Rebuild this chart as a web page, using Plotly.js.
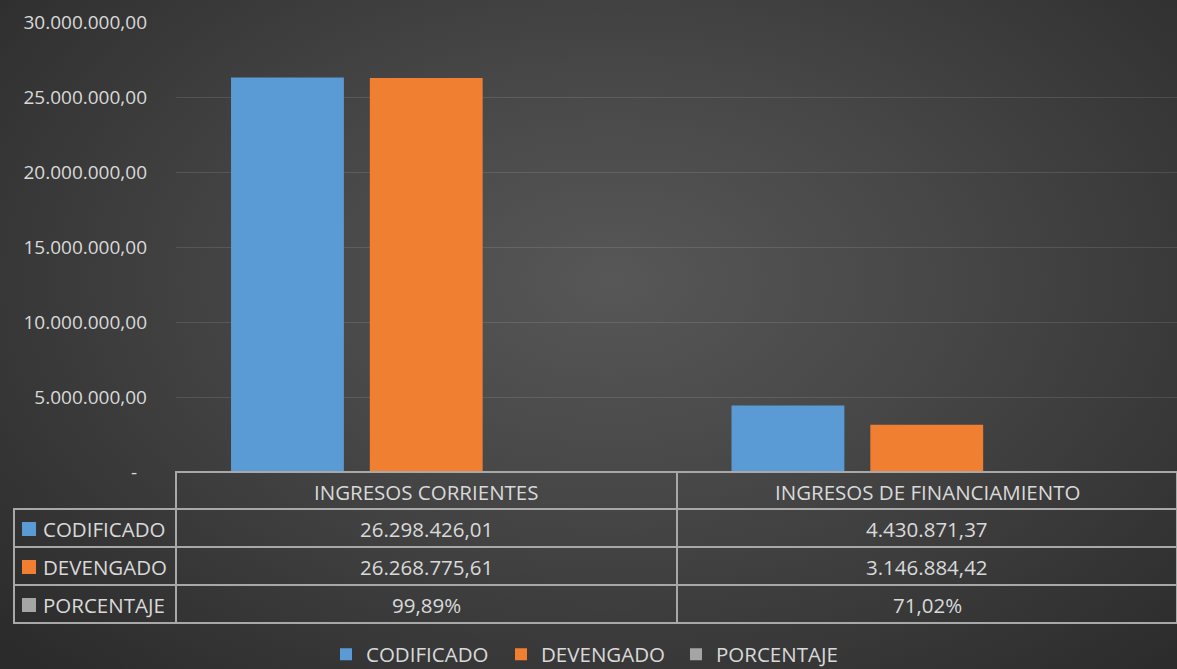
<!DOCTYPE html>
<html><head><meta charset="utf-8">
<script src="https://cdn.plot.ly/plotly-3.0.1.min.js"></script>
<style>
html,body{margin:0;padding:0;background:#2b2b2b;}
#chart{width:1177px;height:669px;background:radial-gradient(ellipse 70% 80% at 52% 42%, #575757 0%, #474747 40%, #2b2b2b 100%);}
</style></head><body><div id="chart"></div>
<script>
const categories = ['INGRESOS CORRIENTES', 'INGRESOS DE FINANCIAMIENTO'];
const seriesNames = ['CODIFICADO', 'DEVENGADO', 'PORCENTAJE'];
const codificado = [26298426.01, 4430871.37];
const devengado = [26268775.61, 3146884.42];
const porcentaje = [0.9989, 0.7102];
const seriesColors = ['#5b9bd5', '#f07f32', '#a5a5a5'];
const yTickVals = [0, 5000000, 10000000, 15000000, 20000000, 25000000, 30000000];
const yTickText = ['-\u00a0\u00a0', '5.000.000,00', '10.000.000,00', '15.000.000,00', '20.000.000,00', '25.000.000,00', '30.000.000,00'];

function fmtNum(n) {
  const parts = n.toFixed(2).split('.');
  return parts[0].replace(/\B(?=(\d{3})+(?!\d))/g, '.') + ',' + parts[1];
}
function fmtPct(p) { return (p * 100).toFixed(2).replace('.', ',') + '%'; }

const W = 1177, H = 669;
const txtColor = '#d9d9d9';
const FONT = '"Open Sans", Lato, sans-serif';
const FS_AXIS = 19, FS_TABLE = 20.5;
const lineColor = '#a8a8a8';
const seriesValues = [codificado, devengado, porcentaje];

// table geometry (pixels)
const TBL_LEFT = 14, TBL_TOP = 472, COLW = [162, 501, 500], HEAD_H = 37, ROW_H = 38;

const barTraces = seriesNames.map((name, i) => ({
  type: 'bar', name: name, x: categories, y: seriesValues[i],
  marker: {color: seriesColors[i], line: {width: 0}},
  hoverinfo: 'skip'
}));

const tableBottom = TBL_TOP + HEAD_H + ROW_H * seriesNames.length;
const tableTrace = {
  type: 'table',
  domain: {x: [TBL_LEFT / W, 1], y: [1 - (tableBottom + 3) / H, 1 - TBL_TOP / H]},
  columnwidth: COLW,
  header: {
    values: ['', '', ''],
    height: HEAD_H,
    fill: {color: 'rgba(0,0,0,0)'},
    line: {color: ['rgba(0,0,0,0)', lineColor, lineColor], width: 2},
    font: {family: FONT, size: FS_TABLE, color: txtColor}
  },
  cells: {
    values: [seriesNames.map(() => ''), seriesNames.map(() => ''), seriesNames.map(() => '')],
    height: ROW_H,
    fill: {color: 'rgba(0,0,0,0)'},
    line: {color: lineColor, width: 2},
    font: {family: FONT, size: FS_TABLE, color: txtColor}
  }
};

// table texts
const annotations = [];
const colX = [TBL_LEFT];
COLW.forEach((w, i) => colX.push(colX[i] + w));
const px2x = p => p / W, px2y = p => 1 - p / H;
categories.forEach((c, j) => {
  annotations.push({xref: 'paper', yref: 'paper', x: px2x((colX[j + 1] + colX[j + 2]) / 2), y: px2y(TBL_TOP + HEAD_H / 2 + 1),
    text: c, showarrow: false, xanchor: 'center', yanchor: 'middle', font: {family: FONT, size: FS_TABLE, color: txtColor}});
});
const rowTexts = [
  codificado.map(fmtNum),
  devengado.map(fmtNum),
  porcentaje.map(fmtPct)
];
seriesNames.forEach((n, i) => {
  const yc = TBL_TOP + HEAD_H + ROW_H * i + ROW_H / 2 + 1;
  annotations.push({xref: 'paper', yref: 'paper', x: px2x(TBL_LEFT + 8), y: px2y(yc), text: '\u00a0',
    showarrow: false, xanchor: 'left', yanchor: 'middle', width: 14, height: 14, bgcolor: seriesColors[i],
    borderpad: 0, borderwidth: 0, font: {size: 1, color: seriesColors[i]}});
  annotations.push({xref: 'paper', yref: 'paper', x: px2x(TBL_LEFT + 27), y: px2y(yc), text: n,
    showarrow: false, xanchor: 'left', yanchor: 'middle', font: {family: FONT, size: FS_TABLE, color: txtColor}});
  categories.forEach((c, j) => {
    annotations.push({xref: 'paper', yref: 'paper', x: px2x((colX[j + 1] + colX[j + 2]) / 2), y: px2y(yc),
      text: rowTexts[i][j], showarrow: false, xanchor: 'center', yanchor: 'middle',
      font: {family: FONT, size: FS_TABLE, color: txtColor}});
  });
});

const layout = {
  width: W, height: H,
  paper_bgcolor: 'rgba(0,0,0,0)', plot_bgcolor: 'rgba(0,0,0,0)',
  margin: {l: 0, r: 0, t: 0, b: 0, autoexpand: false},
  font: {family: FONT, size: FS_TABLE, color: txtColor},
  barmode: 'group', bargap: 0.168, bargroupgap: 0.187,
  showlegend: true,
  legend: {orientation: 'h', x: 0.5, xanchor: 'center', y: -0.008, yanchor: 'bottom',
           entrywidth: 130, entrywidthmode: 'pixels',
           font: {family: FONT, size: FS_TABLE, color: txtColor}, bgcolor: 'rgba(0,0,0,0)'},
  xaxis: {domain: [176 / W, 1], showticklabels: false, showgrid: false, zeroline: false, showline: false, fixedrange: true},
  yaxis: {domain: [1 - 472 / H, 1 - 22 / H], range: [0, 30000000], tickvals: yTickVals, ticktext: yTickText,
          showgrid: true, gridcolor: 'rgba(255,255,255,0.11)', gridwidth: 1, zeroline: false, showline: false,
          ticks: '', ticklabelstandoff: 28, automargin: false,
          tickfont: {family: FONT, size: FS_AXIS, color: txtColor}},
  annotations: annotations
};

Plotly.newPlot('chart', barTraces.concat([tableTrace]), layout, {displayModeBar: false, staticPlot: true});
</script></body></html>
